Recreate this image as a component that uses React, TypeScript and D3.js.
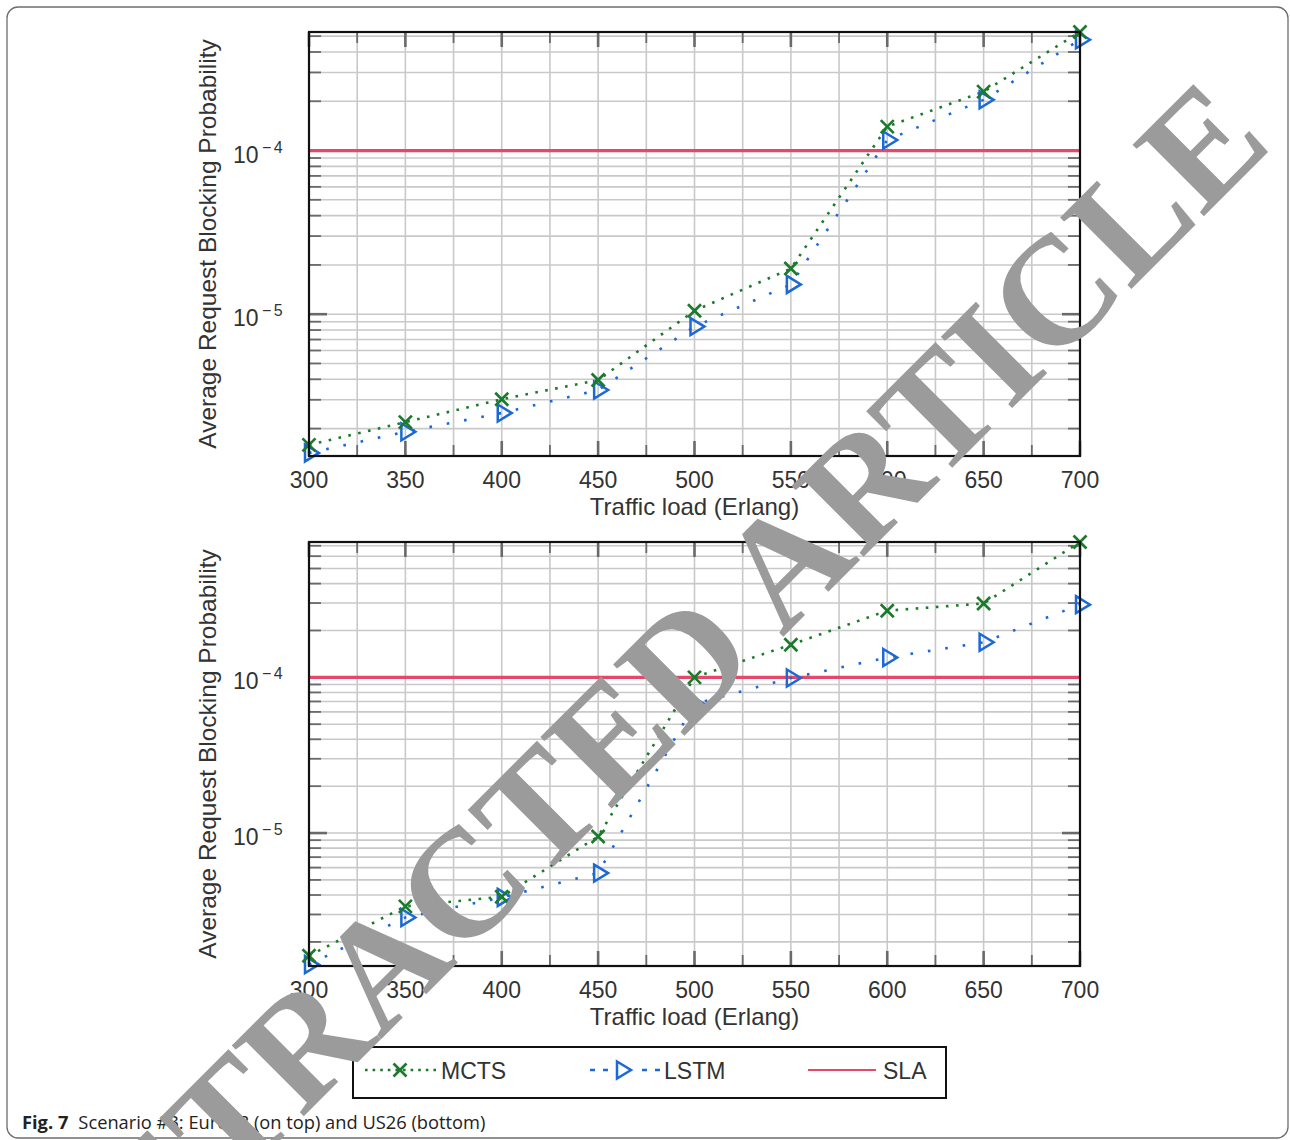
import React from 'react';
import * as d3 from 'd3';

// traffic loads (Erlang)
const loads = [300, 350, 400, 450, 500, 550, 600, 650, 700];

// Euro28 (top panel)
const euroMcts = [1.59e-6, 2.19e-6, 3.02e-6, 3.96e-6, 1.05e-5, 1.9e-5, 1.4e-4, 2.29e-4, 5.3e-4];
const euroLstm = [1.42e-6, 1.91e-6, 2.49e-6, 3.44e-6, 8.4e-6, 1.52e-5, 1.16e-4, 2.04e-4, 4.75e-4];
const euroDomain = [1.36e-6, 5.3e-4];

// US26 (bottom panel)
const usMcts = [1.63e-6, 3.38e-6, 3.9e-6, 9.5e-6, 1.0e-4, 1.62e-4, 2.68e-4, 2.98e-4, 7.4e-4];
const usLstm = [1.43e-6, 2.87e-6, 3.86e-6, 5.53e-6, 6.74e-5, 9.9e-5, 1.34e-4, 1.68e-4, 2.93e-4];
const usDomain = [1.4e-6, 7.4e-4];

const slaValue = 1e-4;
const xTicks = [300, 350, 400, 450, 500, 550, 600, 650, 700];
const yTicks = [1e-5, 1e-4];
const yTickExp = ['\u22125', '\u22124'];

const WIDTH = 1290;
const HEIGHT = 1140;
const GREEN = '#1b7a2c';
const BLUE = '#1c68d4';
const RED = '#e5486a';
const GRID = '#c9c9c9';
const TICK = '#6a6a6a';
const TEXT = '#333';
const FONT = '"Liberation Sans", Arial, sans-serif';

const XMark = ({ x, y }: { x: number; y: number }) => (
    <g transform={`translate(${x},${y})`} stroke={GREEN} strokeWidth={2.7}>
        <line x1={-6.5} y1={-6.5} x2={6.5} y2={6.5} />
        <line x1={-6.5} y1={6.5} x2={6.5} y2={-6.5} />
    </g>
);

const TriMark = ({ x, y }: { x: number; y: number }) => (
    <path
        transform={`translate(${x},${y})`}
        d="M -4,-8.5 L 10,0 L -4,8.5 Z"
        fill="none"
        stroke={BLUE}
        strokeWidth={2.5}
        strokeLinejoin="miter"
    />
);

interface PanelProps {
    top: number;
    mcts: number[];
    lstm: number[];
    domain: number[];
}

const Panel = ({ top, mcts, lstm, domain }: PanelProps) => {
    const left = 309;
    const right = 1080;
    const bottom = top + 424;

    const x = d3.scaleLinear().domain([300, 700]).range([left, right]);
    const y = d3.scaleLog().domain(domain).range([bottom, top]);

    // minor grid values (1..9 x 10^k) inside domain
    const logGrid: number[] = [];
    for (let k = -7; k <= -2; k++) {
        for (let m = 1; m <= 9; m++) {
            const v = m * Math.pow(10, k);
            if (v >= domain[0] && v <= domain[1]) logGrid.push(v);
        }
    }
    const xGrid = d3.range(300, 701, 25);

    const line = d3
        .line<number>()
        .x((_, i) => x(loads[i]))
        .y((d) => y(d));

    return (
        <g>
            {/* grid */}
            {xGrid.map((v) => (
                <line key={'gx' + v} x1={x(v)} x2={x(v)} y1={top} y2={bottom} stroke={GRID} strokeWidth={1.6} />
            ))}
            {logGrid.map((v) => (
                <line key={'gy' + v} x1={left} x2={right} y1={y(v)} y2={y(v)} stroke={GRID} strokeWidth={1.6} />
            ))}

            {/* ticks */}
            {xGrid.map((v) => {
                const major = v % 50 === 0;
                const len = major ? 15 : 11;
                return (
                    <g key={'tx' + v} stroke={TICK} strokeWidth={major ? 2.6 : 1.8}>
                        <line x1={x(v)} x2={x(v)} y1={bottom} y2={bottom - len} />
                        <line x1={x(v)} x2={x(v)} y1={top} y2={top + len} />
                    </g>
                );
            })}
            {logGrid.map((v) => {
                const major = yTicks.includes(v);
                const len = major ? 18 : 12;
                return (
                    <g key={'ty' + v} stroke={TICK} strokeWidth={major ? 2.6 : 1.8}>
                        <line x1={left} x2={left + len} y1={y(v)} y2={y(v)} />
                        <line x1={right} x2={right - len} y1={y(v)} y2={y(v)} />
                    </g>
                );
            })}

            {/* SLA threshold */}
            <line x1={left} x2={right} y1={y(slaValue)} y2={y(slaValue)} stroke={RED} strokeWidth={3.2} />

            {/* series */}
            <path d={line(lstm) || ''} fill="none" stroke={BLUE} strokeWidth={2.6} strokeDasharray="2.6 15" />
            <path d={line(mcts) || ''} fill="none" stroke={GREEN} strokeWidth={2.6} strokeDasharray="2.6 7.5" />
            {lstm.map((v, i) => (
                <TriMark key={'l' + i} x={x(loads[i])} y={y(v)} />
            ))}
            {mcts.map((v, i) => (
                <XMark key={'m' + i} x={x(loads[i])} y={y(v)} />
            ))}

            {/* frame */}
            <rect x={left} y={top} width={right - left} height={bottom - top} fill="none" stroke="#111" strokeWidth={2.2} />

            {/* tick labels */}
            {xTicks.map((v) => (
                <text key={'lx' + v} x={x(v)} y={bottom + 32} textAnchor="middle" fontSize={23} fill={TEXT}>
                    {v}
                </text>
            ))}
            {yTicks.map((v, i) => (
                <g key={'ly' + v} fill={TEXT}>
                    <text x={233} y={y(v) + 12} fontSize={23}>
                        10
                    </text>
                    <text x={262} y={y(v) + 2} fontSize={16} letterSpacing={2.5}>
                        {yTickExp[i]}
                    </text>
                </g>
            ))}

            {/* axis titles */}
            <text x={(left + right) / 2} y={bottom + 59} textAnchor="middle" fontSize={24} fill={TEXT}>
                Traffic load (Erlang)
            </text>
            <text
                transform={`translate(216,${(top + bottom) / 2}) rotate(-90)`}
                textAnchor="middle"
                fontSize={24.5}
                fill={TEXT}
            >
                Average Request Blocking Probability
            </text>
        </g>
    );
};

const App = () => {
    const legendY = 1070;
    return (
        <div style={{ position: 'absolute', left: 0, top: 0, background: '#fff' }}>
            <svg width={WIDTH} height={HEIGHT} fontFamily={FONT} style={{ display: 'block' }}>
                <rect x={0} y={0} width={WIDTH} height={HEIGHT} fill="#fff" />
                <rect x={7} y={7} width={1281} height={1131} rx={11} fill="none" stroke="#6d6d6d" strokeWidth={1.3} />

                <Panel top={32} mcts={euroMcts} lstm={euroLstm} domain={euroDomain} />
                <Panel top={542} mcts={usMcts} lstm={usLstm} domain={usDomain} />

                {/* legend */}
                <rect x={353} y={1047} width={593} height={51} fill="#fff" stroke="#111" strokeWidth={2} />
                <line x1={365} x2={437} y1={legendY} y2={legendY} stroke={GREEN} strokeWidth={2.4} strokeDasharray="2.6 5" />
                <XMark x={400} y={legendY} />
                <text x={441} y={legendY + 9} fontSize={23} fill={TEXT}>MCTS</text>
                <line x1={590} x2={660} y1={legendY} y2={legendY} stroke={BLUE} strokeWidth={2.4} strokeDasharray="5 8" />
                <rect x={612} y={legendY - 10} width={22} height={20} fill="#fff" />
                <TriMark x={621} y={legendY} />
                <text x={664} y={legendY + 9} fontSize={23} fill={TEXT}>LSTM</text>
                <line x1={808} x2={876} y1={legendY} y2={legendY} stroke={RED} strokeWidth={2} />
                <text x={883} y={legendY + 9} fontSize={23} fill={TEXT}>SLA</text>

                {/* caption */}
                <text x={22} y={1129} fontFamily='"Open Sans", sans-serif' fontSize={18.3} fill="#222">
                    <tspan fontWeight="bold">Fig. 7</tspan>
                    <tspan dx={10}>Scenario #3: Euro28 (on top) and US26 (bottom)</tspan>
                </text>

                {/* watermark */}
                <text
                    transform="translate(640,708) rotate(-45)"
                    y={51}
                    textAnchor="middle"
                    fontFamily='"Liberation Serif", "Times New Roman", serif'
                    fontWeight="bold"
                    fontSize={154}
                    fill="#9b9b9b"
                >
                    RETRACTED ARTICLE
                </text>
            </svg>
        </div>
    );
};

export default App;
